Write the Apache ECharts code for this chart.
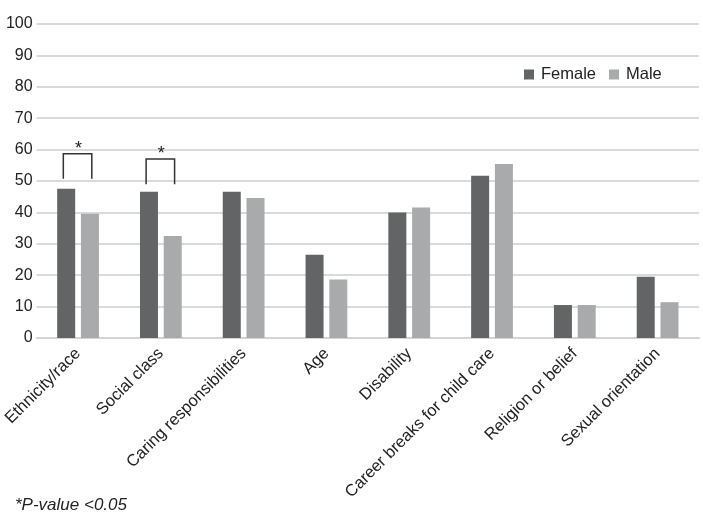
<!DOCTYPE html>
<html>
<head>
<meta charset="utf-8">
<script src="https://cdn.jsdelivr.net/npm/echarts@6/dist/echarts.min.js"></script>
<style>
html,body{margin:0;padding:0;background:#fff;}
#chart{width:703px;height:516px;}
</style>
</head>
<body>
<div id="chart"></div>
<script>
var categories = ['Ethnicity/race', 'Social class', 'Caring responsibilities', 'Age', 'Disability', 'Career breaks for child care', 'Religion or belief', 'Sexual orientation'];
var femaleValues = [47.5, 46.6, 46.6, 26.5, 40, 51.7, 10.5, 19.5];
var maleValues = [39.6, 32.5, 44.6, 18.6, 41.6, 55.4, 10.5, 11.4];
var yTicks = [0, 10, 20, 30, 40, 50, 60, 70, 80, 90, 100];
var sigCategories = ['Ethnicity/race', 'Social class'];
var sigBottom = [50.7, 49];
var sigTop = [58.7, 57];
var footnote = '*P-value <0.05';

var FONT = '"Liberation Sans", Arial, sans-serif';
var chart = echarts.init(document.getElementById('chart'), null, {renderer: 'canvas'});

var sigData = sigCategories.map(function (c, i) {
  return [categories.indexOf(c), sigBottom[i], sigTop[i]];
});

var option = {
  backgroundColor: '#ffffff',
  animation: false,
  textStyle: {fontFamily: FONT},
  legend: {
    data: ['Female', 'Male'],
    left: 519,
    top: 61,
    itemWidth: 10,
    itemHeight: 10,
    itemGap: 13,
    icon: 'rect',
    textStyle: {fontSize: 16.5, color: '#222', fontFamily: FONT, padding: [0, 0, 0, 2]}
  },
  grid: {left: 35, right: 4, top: 24, bottom: 178, containLabel: false},
  xAxis: {
    type: 'category',
    data: categories,
    axisLine: {show: true, lineStyle: {color: '#d4d4d4', width: 2}},
    axisTick: {show: false},
    axisLabel: {rotate: 45, fontSize: 16.5, color: '#222', margin: 13, interval: 0, fontFamily: FONT}
  },
  yAxis: {
    type: 'value',
    min: yTicks[0],
    max: yTicks[yTicks.length - 1],
    interval: 10,
    axisLine: {show: false},
    axisTick: {show: false},
    axisLabel: {fontSize: 16, color: '#222', margin: 4, fontFamily: FONT},
    splitLine: {lineStyle: {color: '#dadada', width: 2}}
  },
  series: [
    {
      name: 'Female', type: 'bar', data: femaleValues,
      barWidth: 18, barGap: '32%',
      itemStyle: {color: '#636466'}
    },
    {
      name: 'Male', type: 'bar', data: maleValues,
      barWidth: 18,
      itemStyle: {color: '#a8aaac'}
    },
    {
      name: 'sig', type: 'custom', data: sigData, z: 10,
      renderItem: function (params, api) {
        var idx = api.value(0);
        var pb = api.coord([idx, api.value(1)]);
        var pt = api.coord([idx, api.value(2)]);
        var band = api.size([1, 0])[0];
        var w = band * 0.172;
        var cx = pt[0] - 0.5;
        return {
          type: 'group',
          children: [
            {
              type: 'polyline',
              shape: {points: [[cx - w, pb[1]], [cx - w, pt[1]], [cx + w, pt[1]], [cx + w, pb[1]]]},
              style: {stroke: '#333', lineWidth: 1.5, fill: null}
            },
            {
              type: 'text',
              style: {text: '*', x: cx + 1, y: pt[1] + 4, textAlign: 'center', textVerticalAlign: 'bottom', fontSize: 18, fill: '#222', fontFamily: FONT}
            }
          ]
        };
      }
    }
  ],
  graphic: [
    {
      type: 'text', left: 15, top: 497,
      style: {text: footnote, fontSize: 17, fontStyle: 'italic', fill: '#222', fontFamily: FONT}
    }
  ]
};
chart.setOption(option);
</script>
</body>
</html>
